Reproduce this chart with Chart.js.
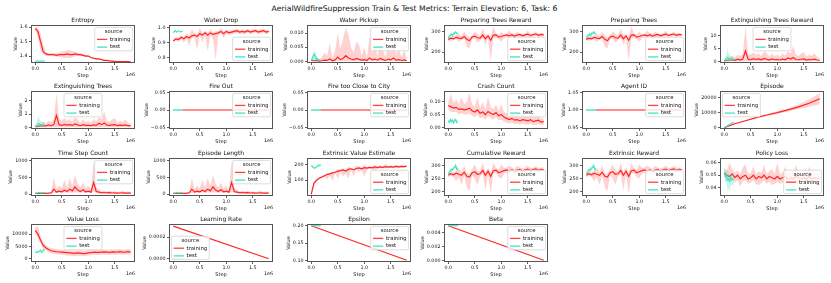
<!DOCTYPE html>
<html>
<head>
<meta charset="utf-8">
<script src="https://cdn.jsdelivr.net/npm/chart.js@4.4.0/dist/chart.umd.min.js"></script>
<style>
  body { margin: 0; background: #fff; width: 831px; height: 283px; overflow: hidden; position: relative; font-family: 'DejaVu Sans'; }
  #suptitle { position: absolute; left: 0; top: 4px; width: 829px; text-align: center; font-size: 7.7px; color: #111; white-space: nowrap; }
  .panel { position: absolute; }
</style>
</head>
<body>
<div id="suptitle">AerialWildfireSuppression Train &amp; Test Metrics: Terrain Elevation: 6, Task: 6</div>
<script>
// steps (x values)
const trainSteps = [0, 50000, 100000, 150000, 200000, 250000, 300000, 350000, 400000, 450000,
  500000, 550000, 600000, 650000, 700000, 750000, 800000, 850000, 900000, 950000,
  1000000, 1050000, 1100000, 1150000, 1200000, 1250000, 1300000, 1350000, 1400000, 1450000,
  1500000, 1550000, 1600000, 1650000, 1700000, 1750000, 1800000];
const testSteps = [0, 20000, 40000, 60000, 80000, 100000, 120000, 140000, 160000, 180000];
const lineSteps = [0, 1800000];
const testLineSteps = [0, 180000];
const episodeSteps = [0, 200000, 400000, 600000, 800000, 1000000, 1200000, 1400000, 1600000, 1800000];
const xTicks = [0, 500000, 1000000, 1500000];

const seriesNames = ['training', 'test'];
const legendTitle = 'source';

const zeroBand = [0, 0, 0, 0, 0, 0, 0, 0, 0, 0, 0, 0, 0, 0, 0, 0, 0, 0, 0, 0,
  0, 0, 0, 0, 0, 0, 0, 0, 0, 0, 0, 0, 0, 0, 0, 0, 0];
const zeroTestBand = [0, 0, 0, 0, 0, 0, 0, 0, 0, 0];

// Entropy
const entropyTrain = [1.59, 1.57, 1.50, 1.43, 1.415, 1.41, 1.41, 1.41, 1.405, 1.41,
  1.41, 1.41, 1.415, 1.41, 1.41, 1.415, 1.41, 1.41, 1.405, 1.40,
  1.40, 1.39, 1.385, 1.38, 1.38, 1.375, 1.37, 1.37, 1.367, 1.365,
  1.363, 1.362, 1.362, 1.361, 1.361, 1.361, 1.36];
const entropyHi = [1.60, 1.595, 1.56, 1.48, 1.43, 1.42, 1.42, 1.42, 1.42, 1.425,
  1.43, 1.435, 1.44, 1.44, 1.435, 1.43, 1.425, 1.42, 1.415, 1.41,
  1.405, 1.395, 1.39, 1.385, 1.382, 1.377, 1.372, 1.372, 1.369, 1.367,
  1.365, 1.364, 1.364, 1.363, 1.363, 1.363, 1.362];
const entropyLo = [1.58, 1.53, 1.44, 1.41, 1.40, 1.40, 1.40, 1.40, 1.395, 1.395,
  1.39, 1.385, 1.39, 1.385, 1.39, 1.40, 1.40, 1.40, 1.40, 1.395,
  1.395, 1.385, 1.38, 1.375, 1.378, 1.373, 1.368, 1.368, 1.365, 1.363,
  1.361, 1.360, 1.360, 1.359, 1.359, 1.359, 1.358];
const entropyTest = [1.365, 1.365, 1.365, 1.365, 1.365, 1.365, 1.365, 1.365, 1.365, 1.365];
const entropyTicks = [1.4, 1.5, 1.6];

// Water Drop
const waterDropTrain = [0.91, 0.925, 0.92, 0.935, 0.925, 0.94, 0.93, 0.945, 0.95, 0.94,
  0.96, 0.95, 0.965, 0.95, 0.965, 0.955, 0.96, 0.965, 0.975, 0.96,
  0.975, 0.965, 0.97, 0.975, 0.98, 0.97, 0.975, 0.97, 0.98, 0.97,
  0.975, 0.98, 0.97, 0.975, 0.98, 0.97, 0.975];
const waterDropHi = [0.92, 0.935, 0.935, 0.95, 0.935, 0.96, 0.945, 0.99, 0.965, 0.955,
  1.0, 0.965, 0.98, 0.965, 0.99, 0.97, 0.975, 0.98, 1.0, 0.975,
  0.99, 0.98, 0.985, 0.99, 0.995, 0.985, 0.99, 0.985, 0.995, 0.985,
  0.99, 0.995, 0.985, 0.99, 0.995, 0.985, 0.99];
const waterDropLo = [0.90, 0.91, 0.905, 0.92, 0.90, 0.925, 0.88, 0.93, 0.935, 0.85,
  0.945, 0.90, 0.95, 0.84, 0.95, 0.92, 0.78, 0.95, 0.96, 0.93,
  0.96, 0.95, 0.955, 0.96, 0.965, 0.955, 0.96, 0.955, 0.965, 0.955,
  0.96, 0.965, 0.955, 0.96, 0.965, 0.955, 0.96];
const waterDropTest = [0.965, 0.975, 0.98, 0.97, 0.975, 0.98, 0.975, 0.97, 0.975, 0.98];
const waterDropTicks = [0.8, 0.9, 1.0];

// Water Pickup
const waterPickupTrain = [0.0003, 0.0002, 0.0003, 0.0001, 0.0002, 0.0004, 0.0003, 0.0008, 0.0002, 0.0005,
  0.0015, 0.0006, 0.0010, 0.0020, 0.0012, 0.0008, 0.0005, 0.0010, 0.0007, 0.0004,
  0.0006, 0.0003, 0.0012, 0.0005, 0.0008, 0.0004, 0.0010, 0.0006, 0.0003, 0.0008,
  0.0005, 0.0012, 0.0004, 0.0006, 0.0003, 0.0005, 0.0002];
const waterPickupHi = [0.0010, 0.0008, 0.0012, 0.0005, 0.0015, 0.0030, 0.0020, 0.0065, 0.0010, 0.0040,
  0.0100, 0.0045, 0.0080, 0.0120, 0.0095, 0.0050, 0.0030, 0.0070, 0.0060, 0.0020,
  0.0050, 0.0015, 0.0090, 0.0030, 0.0060, 0.0020, 0.0075, 0.0040, 0.0015, 0.0060,
  0.0030, 0.0085, 0.0025, 0.0045, 0.0015, 0.0040, 0.0010];
const waterPickupTest = [0.0005, 0.001, 0.002, 0.0025, 0.0015, 0.001, 0.0008, 0.0006, 0.0004, 0.0003];
const waterPickupTestHi = [0.001, 0.002, 0.0035, 0.004, 0.003, 0.002, 0.0015, 0.001, 0.0008, 0.0005];
const waterPickupTicks = [0, 0.005, 0.010];

// Preparing Trees Reward / Preparing Trees
const prepTrain = [262, 268, 265, 272, 268, 266, 276, 262, 255, 274,
  278, 270, 268, 283, 265, 279, 258, 283, 284, 273,
  276, 281, 284, 279, 285, 277, 283, 286, 279, 284,
  287, 281, 285, 288, 282, 286, 284];
const prepHi = [272, 275, 280, 282, 290, 278, 300, 282, 270, 282,
  300, 288, 280, 315, 282, 290, 275, 325, 292, 284,
  300, 286, 290, 305, 292, 288, 300, 292, 288, 292,
  305, 290, 292, 300, 291, 292, 292];
const prepLo = [254, 257, 260, 262, 250, 260, 265, 225, 220, 262,
  265, 245, 258, 268, 235, 266, 155, 268, 272, 262,
  250, 268, 272, 268, 274, 268, 272, 276, 270, 274,
  276, 272, 276, 278, 274, 277, 276];
const prepTest = [270, 278, 282, 288, 280, 292, 290, 298, 292, 288];
const prepTestHi = [276, 284, 288, 294, 288, 298, 297, 305, 298, 294];
const prepTestLo = [264, 272, 276, 282, 272, 286, 283, 291, 286, 282];
const prepTicks = [200, 300];

// Extinguishing Trees Reward
const extRewardTrain = [0.2, 0.3, 0.5, 0.6, 0.4, 0.8, 0.5, 0.9, 4.0, 0.8,
  0.6, 1.0, 0.7, 0.9, 0.6, 1.1, 0.8, 0.5, 0.9, 0.6,
  0.7, 0.5, 0.8, 0.6, 1.3, 0.9, 1.5, 0.7, 0.6, 0.8,
  0.9, 0.5, 0.7, 0.6, 0.8, 0.5, 0.4];
const extRewardHi = [0.5, 0.8, 1.5, 2.0, 1.5, 2.5, 2.0, 3.0, 13.3, 3.0,
  2.5, 3.5, 2.5, 3.0, 2.0, 4.0, 3.0, 1.8, 3.0, 2.0,
  2.5, 1.8, 3.0, 2.2, 4.0, 3.0, 6.0, 2.5, 2.0, 3.0,
  3.5, 1.8, 2.5, 2.0, 3.0, 1.8, 1.2];
const extRewardTest = [0.3, 0.6, 1.0, 1.5, 1.2, 1.0, 0.8, 1.0, 0.9, 0.8];
const extRewardTestHi = [0.8, 1.5, 3.0, 5.0, 3.0, 2.5, 2.0, 2.2, 2.0, 1.8];
const extRewardTicks = [0, 5, 10];

// Extinguishing Trees
const extTreesTrain = [0.05, 0.07, 0.1, 0.12, 0.1, 0.18, 0.12, 0.2, 0.9, 0.2,
  0.15, 0.22, 0.16, 0.2, 0.14, 0.25, 0.18, 0.12, 0.2, 0.14,
  0.15, 0.12, 0.18, 0.14, 0.3, 0.2, 0.32, 0.16, 0.14, 0.18,
  0.2, 0.12, 0.16, 0.14, 0.18, 0.12, 0.1];
const extTreesHi = [0.1, 0.16, 0.3, 0.4, 0.3, 0.5, 0.4, 0.6, 2.6, 0.6,
  0.5, 0.7, 0.5, 0.6, 0.4, 0.8, 0.6, 0.35, 0.6, 0.4,
  0.5, 0.35, 0.6, 0.45, 0.8, 0.6, 1.2, 0.5, 0.4, 0.6,
  0.7, 0.35, 0.5, 0.4, 0.6, 0.35, 0.25];
const extTreesTest = [0.06, 0.12, 0.2, 0.3, 0.25, 0.2, 0.16, 0.2, 0.18, 0.16];
const extTreesTestHi = [0.15, 0.3, 0.6, 0.9, 0.6, 0.5, 0.4, 0.45, 0.4, 0.35];
const extTreesTicks = [0, 1, 2];

// Fire Out / Fire too Close to City / Agent ID
const fireOutTrain = [0, 0];
const fireOutTest = [0, 0];
const fireCityTrain = [0, 0];
const fireCityTest = [0, 0];
const zeroTicks = [-0.05, 0, 0.05];
const agentTrain = [1, 1];
const agentTest = [1, 1];
const agentTicks = [0.95, 1.0, 1.05];

// Crash Count
const crashTrain = [0.085, 0.08, 0.075, 0.078, 0.07, 0.072, 0.068, 0.07, 0.075, 0.065,
  0.06, 0.068, 0.055, 0.06, 0.05, 0.062, 0.055, 0.05, 0.058, 0.045,
  0.05, 0.04, 0.035, 0.03, 0.035, 0.028, 0.03, 0.025, 0.03, 0.028,
  0.025, 0.03, 0.022, 0.025, 0.028, 0.02, 0.022];
const crashHi = [0.10, 0.13, 0.095, 0.11, 0.09, 0.12, 0.09, 0.10, 0.135, 0.09,
  0.08, 0.12, 0.075, 0.10, 0.07, 0.12, 0.08, 0.07, 0.09, 0.065,
  0.09, 0.06, 0.055, 0.05, 0.06, 0.045, 0.055, 0.04, 0.05, 0.045,
  0.04, 0.05, 0.038, 0.04, 0.045, 0.035, 0.035];
const crashLo = [0.07, 0.06, 0.06, 0.06, 0.05, 0.055, 0.05, 0.05, 0.055, 0.045,
  0.04, 0.05, 0.035, 0.04, 0.03, 0.045, 0.035, 0.03, 0.04, 0.028,
  0.03, 0.022, 0.018, 0.015, 0.018, 0.012, 0.015, 0.01, 0.015, 0.012,
  0.01, 0.015, 0.008, 0.01, 0.012, 0.008, 0.008];
const crashTest = [0.025, 0.02, 0.03, 0.022, 0.028, 0.018, 0.025, 0.03, 0.02, 0.022];
const crashTestHi = [0.032, 0.028, 0.038, 0.03, 0.036, 0.026, 0.033, 0.038, 0.028, 0.03];
const crashTestLo = [0.018, 0.012, 0.022, 0.014, 0.02, 0.01, 0.017, 0.022, 0.012, 0.014];
const crashTicks = [0, 0.05, 0.10];

// Episode
const episodeTrain = [0, 2600, 4600, 6600, 8400, 10000, 11800, 13800, 16200, 19200];
const episodeHi = [0, 2800, 5000, 7100, 9100, 10900, 12900, 15300, 18700, 23000];
const episodeLo = [0, 2400, 4200, 6100, 7700, 9100, 10700, 12300, 13800, 15500];
const episodeTest = [0, 400, 800, 1200, 1700, 2100, 2500, 2900, 3300, 3700];
const episodeTicks = [0, 10000, 20000];

// Time Step Count / Episode Length
const stepCountTrain = [20, 20, 22, 25, 25, 30, 35, 150, 60, 90,
  70, 120, 80, 150, 100, 220, 120, 80, 130, 70,
  90, 60, 350, 80, 60, 40, 50, 40, 45, 35,
  40, 30, 35, 40, 30, 35, 30];
const stepCountHi = [25, 25, 28, 30, 30, 40, 60, 500, 150, 250,
  180, 420, 200, 480, 250, 580, 300, 200, 350, 180,
  250, 150, 1000, 200, 150, 90, 110, 80, 100, 70,
  90, 60, 80, 100, 60, 90, 60];
const stepCountLo = [15, 15, 18, 20, 20, 22, 25, 40, 30, 40,
  35, 50, 40, 50, 45, 60, 50, 40, 50, 35,
  40, 30, 80, 35, 30, 25, 28, 25, 25, 22,
  25, 20, 22, 25, 20, 22, 20];
const stepCountTest = [30, 35, 40, 45, 50, 40, 35, 45, 50, 40];
const stepCountTestHi = [40, 48, 55, 60, 65, 55, 48, 60, 65, 55];
const stepCountTestLo = [20, 25, 28, 32, 36, 28, 24, 32, 36, 28];
const stepCountTicks = [0, 500, 1000];

// Extrinsic Value Estimate
const valueEstTrain = [10, 80, 100, 112, 120, 128, 136, 140, 146, 150,
  156, 160, 165, 158, 168, 172, 166, 174, 178, 172,
  179, 176, 181, 178, 184, 179, 184, 181, 185, 182,
  186, 183, 187, 184, 187, 185, 188];
const valueEstHi = [15, 88, 106, 118, 126, 134, 148, 146, 152, 156,
  170, 166, 175, 164, 185, 178, 172, 195, 184, 180,
  200, 182, 188, 185, 200, 186, 192, 188, 205, 188,
  195, 190, 198, 190, 194, 192, 194];
const valueEstLo = [5, 70, 94, 106, 114, 120, 105, 130, 95, 144,
  110, 150, 125, 140, 110, 165, 125, 166, 150, 164,
  120, 168, 174, 170, 160, 172, 176, 174, 178, 175,
  178, 176, 180, 176, 180, 178, 181];
const valueEstTest = [192, 186, 180, 176, 178, 184, 190, 195, 192, 196];
const valueEstTestHi = [200, 194, 188, 184, 186, 192, 198, 203, 200, 204];
const valueEstTestLo = [184, 178, 172, 168, 170, 176, 182, 187, 184, 188];
const valueEstTicks = [100, 200];

// Cumulative Reward / Extrinsic Reward
const rewardTrain = [262, 268, 264, 270, 266, 262, 274, 258, 255, 272,
  276, 266, 268, 281, 262, 278, 258, 280, 282, 272,
  276, 280, 283, 278, 284, 276, 282, 285, 278, 283,
  286, 280, 284, 287, 281, 285, 283];
const rewardHi = [270, 276, 275, 280, 290, 275, 300, 270, 268, 285,
  305, 280, 278, 310, 275, 292, 272, 310, 292, 284,
  305, 290, 292, 300, 292, 286, 300, 292, 288, 292,
  300, 290, 292, 298, 291, 292, 292];
const rewardLo = [254, 260, 255, 240, 255, 225, 262, 215, 200, 262,
  250, 225, 258, 265, 205, 265, 190, 268, 272, 255,
  250, 268, 272, 266, 274, 262, 272, 276, 268, 274,
  276, 270, 276, 278, 272, 277, 275];
const rewardTest = [265, 275, 280, 285, 282, 290, 292, 300, 285, 288];
const rewardTestHi = [273, 283, 288, 293, 290, 298, 300, 307, 293, 296];
const rewardTestLo = [257, 267, 272, 277, 274, 282, 284, 292, 277, 280];
const rewardTicks = [200, 250, 300];

// Policy Loss
const policyTrain = [0.052, 0.050, 0.049, 0.051, 0.048, 0.050, 0.047, 0.049, 0.050, 0.047,
  0.048, 0.050, 0.047, 0.049, 0.048, 0.050, 0.047, 0.049, 0.048, 0.047,
  0.049, 0.047, 0.048, 0.049, 0.047, 0.048, 0.047, 0.049, 0.048, 0.047,
  0.048, 0.047, 0.049, 0.047, 0.048, 0.047, 0.048];
const policyHi = [0.056, 0.054, 0.060, 0.055, 0.052, 0.054, 0.051, 0.056, 0.059, 0.051,
  0.052, 0.057, 0.051, 0.053, 0.052, 0.058, 0.051, 0.053, 0.055, 0.051,
  0.060, 0.051, 0.052, 0.057, 0.051, 0.052, 0.051, 0.058, 0.052, 0.051,
  0.052, 0.051, 0.057, 0.051, 0.052, 0.051, 0.052];
const policyLo = [0.048, 0.046, 0.045, 0.047, 0.044, 0.046, 0.041, 0.045, 0.046, 0.043,
  0.044, 0.046, 0.043, 0.042, 0.044, 0.046, 0.043, 0.045, 0.042, 0.043,
  0.045, 0.043, 0.044, 0.045, 0.043, 0.044, 0.043, 0.045, 0.044, 0.043,
  0.044, 0.043, 0.045, 0.043, 0.044, 0.043, 0.044];
const policyTest = [0.052, 0.049, 0.050, 0.046, 0.047, 0.045, 0.048, 0.046, 0.047, 0.046];
const policyTestHi = [0.056, 0.054, 0.055, 0.052, 0.052, 0.050, 0.052, 0.050, 0.051, 0.050];
const policyTestLo = [0.048, 0.044, 0.044, 0.038, 0.040, 0.036, 0.042, 0.041, 0.043, 0.042];
const policyTicks = [0.04, 0.05, 0.06];

// Value Loss
const valueLossTrain = [11500, 10000, 7500, 5500, 4500, 3800, 3300, 3100, 2900, 2800,
  2700, 2600, 2500, 2400, 2300, 2200, 2400, 2300, 2100, 2200,
  2400, 2500, 2700, 2600, 2600, 2700, 2800, 2700, 2600, 2800,
  2700, 2800, 2900, 2700, 2800, 2900, 2800];
const valueLossHi = [12500, 13500, 9000, 6800, 5500, 4800, 4300, 4100, 3900, 3800,
  3700, 3700, 3600, 3500, 3400, 3300, 3600, 3500, 3200, 3300,
  3600, 3700, 3900, 3800, 3700, 3800, 3900, 3800, 3700, 3900,
  3800, 3900, 4000, 3800, 3900, 4000, 3800];
const valueLossLo = [10500, 8500, 6200, 4300, 3500, 2800, 2300, 2100, 1900, 1800,
  1700, 1500, 1400, 1300, 1200, 1100, 1300, 1200, 1100, 1200,
  1400, 1500, 1700, 1600, 1600, 1700, 1800, 1700, 1600, 1800,
  1700, 1800, 1900, 1700, 1800, 1900, 1800];
const valueLossTest = [2800, 2600, 3000, 2700, 3200, 3500, 2600, 3000, 3800, 3500];
const valueLossTicks = [0, 5000, 10000];

// Learning Rate / Epsilon / Beta
const lrTrain = [0.0003, 0];
const lrTest = [0, 0];
const lrTicks = [0, 0.0002];
const epsTrain = [0.2, 0.1];
const epsTest = [0.2, 0.2];
const epsTicks = [0.10, 0.15, 0.20];
const betaTrain = [0.005, 0.00001];
const betaTest = [0.005, 0.005];
const betaTicks = [0, 0.002, 0.004];

// layout + style
const COL_LEFT = [31, 169, 307, 444, 582, 720];
const ROW_TOP = [25, 91, 158, 224];
const BOX_W = 104, BOX_H = 38;
const PAD_L = 32, PAD_T = 10, PAD_R = 4, PAD_B = 19;
const X_MIN = -80000, X_MAX = 1880000;
const FAMILY = 'DejaVu Sans';
const TICK_PX = 4.8, LABEL_PX = 5, LEGEND_PX = 5.3, TITLE_PX = 6;
const INK = '#111';
const SPINE = '#555';
const RED = '#ff2424', RED_BAND = 'rgba(255,30,30,0.2)';
const CYAN = '#45e3c0', CYAN_BAND = 'rgba(69,227,192,0.3)';
const FLAT_RED = '#ff8c8c', FLAT_CYAN = '#7fead2';
const legendColors = ['#ff4040', CYAN];

const panels = [
  { title: 'Entropy', train: entropyTrain, trainHi: entropyHi, trainLo: entropyLo, test: entropyTest,
    yMin: 1.352, yMax: 1.614, yTicks: entropyTicks, dec: 1, legend: 'ur' },
  { title: 'Water Drop', train: waterDropTrain, trainHi: waterDropHi, trainLo: waterDropLo, test: waterDropTest,
    yMin: 0.762, yMax: 1.018, yTicks: waterDropTicks, dec: 1, legend: 'lr' },
  { title: 'Water Pickup', train: waterPickupTrain, trainHi: waterPickupHi, trainLo: zeroBand,
    test: waterPickupTest, testHi: waterPickupTestHi, testLo: zeroTestBand,
    yMin: -0.0006, yMax: 0.0129, yTicks: waterPickupTicks, dec: 3, legend: 'ur' },
  { title: 'Preparing Trees Reward', train: prepTrain, trainHi: prepHi, trainLo: prepLo,
    test: prepTest, testHi: prepTestHi, testLo: prepTestLo,
    yMin: 147, yMax: 332, yTicks: prepTicks, dec: 0, legend: 'lr' },
  { title: 'Preparing Trees', train: prepTrain, trainHi: prepHi, trainLo: prepLo,
    test: prepTest, testHi: prepTestHi, testLo: prepTestLo,
    yMin: 147, yMax: 332, yTicks: prepTicks, dec: 0, legend: 'lr' },
  { title: 'Extinguishing Trees Reward', train: extRewardTrain, trainHi: extRewardHi, trainLo: zeroBand,
    test: extRewardTest, testHi: extRewardTestHi, testLo: zeroTestBand,
    yMin: -0.65, yMax: 13.95, yTicks: extRewardTicks, dec: 0, legend: 'uc' },
  { title: 'Extinguishing Trees', train: extTreesTrain, trainHi: extTreesHi, trainLo: zeroBand,
    test: extTreesTest, testHi: extTreesTestHi, testLo: zeroTestBand,
    yMin: -0.13, yMax: 2.75, yTicks: extTreesTicks, dec: 0, legend: 'uc' },
  { title: 'Fire Out', train: fireOutTrain, trainX: lineSteps, test: fireOutTest, testX: testLineSteps, flat: true,
    yMin: -0.055, yMax: 0.055, yTicks: zeroTicks, dec: 2, legend: 'ur' },
  { title: 'Fire too Close to City', train: fireCityTrain, trainX: lineSteps, test: fireCityTest, testX: testLineSteps, flat: true,
    yMin: -0.055, yMax: 0.055, yTicks: zeroTicks, dec: 2, legend: 'ur' },
  { title: 'Crash Count', train: crashTrain, trainHi: crashHi, trainLo: crashLo,
    test: crashTest, testHi: crashTestHi, testLo: crashTestLo,
    yMin: -0.0066, yMax: 0.142, yTicks: crashTicks, dec: 2, legend: 'ur' },
  { title: 'Agent ID', train: agentTrain, trainX: lineSteps, test: agentTest, testX: testLineSteps, flat: true,
    yMin: 0.945, yMax: 1.055, yTicks: agentTicks, dec: 2, legend: 'ur' },
  { title: 'Episode', train: episodeTrain, trainX: episodeSteps, trainHi: episodeHi, trainLo: episodeLo, test: episodeTest,
    yMin: -900, yMax: 24300, yTicks: episodeTicks, dec: 0, legend: 'ul' },
  { title: 'Time Step Count', train: stepCountTrain, trainHi: stepCountHi, trainLo: stepCountLo,
    test: stepCountTest, testHi: stepCountTestHi, testLo: stepCountTestLo,
    yMin: -55, yMax: 1080, yTicks: stepCountTicks, dec: 0, legend: 'ur' },
  { title: 'Episode Length', train: stepCountTrain, trainHi: stepCountHi, trainLo: stepCountLo,
    test: stepCountTest, testHi: stepCountTestHi, testLo: stepCountTestLo,
    yMin: -55, yMax: 1080, yTicks: stepCountTicks, dec: 0, legend: 'ur' },
  { title: 'Extrinsic Value Estimate', train: valueEstTrain, trainHi: valueEstHi, trainLo: valueEstLo,
    test: valueEstTest, testHi: valueEstTestHi, testLo: valueEstTestLo,
    yMin: 0, yMax: 240, yTicks: valueEstTicks, dec: 0, legend: 'lr' },
  { title: 'Cumulative Reward', train: rewardTrain, trainHi: rewardHi, trainLo: rewardLo,
    test: rewardTest, testHi: rewardTestHi, testLo: rewardTestLo,
    yMin: 182, yMax: 329, yTicks: rewardTicks, dec: 0, legend: 'lr' },
  { title: 'Extrinsic Reward', train: rewardTrain, trainHi: rewardHi, trainLo: rewardLo,
    test: rewardTest, testHi: rewardTestHi, testLo: rewardTestLo,
    yMin: 182, yMax: 329, yTicks: rewardTicks, dec: 0, legend: 'lr' },
  { title: 'Policy Loss', train: policyTrain, trainHi: policyHi, trainLo: policyLo,
    test: policyTest, testHi: policyTestHi, testLo: policyTestLo,
    yMin: 0.0333, yMax: 0.0638, yTicks: policyTicks, dec: 2, legend: 'lr' },
  { title: 'Value Loss', train: valueLossTrain, trainHi: valueLossHi, trainLo: valueLossLo, test: valueLossTest,
    yMin: -1250, yMax: 14100, yTicks: valueLossTicks, dec: 0, legend: 'uc' },
  { title: 'Learning Rate', train: lrTrain, trainX: lineSteps, test: lrTest, testX: testLineSteps,
    yMin: -0.00003, yMax: 0.00032, yTicks: lrTicks, dec: 4, legend: 'll' },
  { title: 'Epsilon', train: epsTrain, trainX: lineSteps, test: epsTest, testX: testLineSteps,
    yMin: 0.095, yMax: 0.205, yTicks: epsTicks, dec: 2, legend: 'ur' },
  { title: 'Beta', train: betaTrain, trainX: lineSteps, test: betaTest, testX: testLineSteps,
    yMin: -0.00025, yMax: 0.00525, yTicks: betaTicks, dec: 3, legend: 'ur' }
];

const pts = (xs, ys) => ys.map((y, i) => ({ x: xs[i], y }));
const fmt = (v, dec) => v.toFixed(dec).replace('-', '\u2212');

function lineSet(xs, ys, color, order, width) {
  return { data: pts(xs, ys), borderColor: color, borderWidth: width, fill: false, order };
}
function bandSets(xs, hi, lo, color, order) {
  return [
    { data: pts(xs, hi), borderWidth: 0, borderColor: 'transparent', backgroundColor: color, fill: '+1', order },
    { data: pts(xs, lo), borderWidth: 0, borderColor: 'transparent', fill: false, order }
  ];
}

function drawLegend(ctx, a, pos) {
  ctx.font = `${LEGEND_PX}px ${FAMILY}`;
  const textW = Math.max(...seriesNames.map(n => ctx.measureText(n).width));
  const w = 2.3 + 10.3 + 2.6 + textW + 2.2, h = 23.4, m = 2.4;
  let x = a.right - m - w;
  if (pos[1] === 'l') x = a.left + m;
  if (pos[1] === 'c') x = (a.left + a.right) / 2 - w / 2;
  let y = a.top + m;
  if (pos[0] === 'l') y = a.bottom - m - h;
  ctx.beginPath();
  if (ctx.roundRect) ctx.roundRect(x, y, w, h, 1.5); else ctx.rect(x, y, w, h);
  ctx.fillStyle = 'rgba(255,255,255,0.8)';
  ctx.fill();
  ctx.strokeStyle = '#d4d4d4';
  ctx.lineWidth = 0.8;
  ctx.stroke();
  ctx.fillStyle = INK;
  ctx.textAlign = 'center';
  ctx.textBaseline = 'middle';
  ctx.fillText(legendTitle, x + w / 2, y + 4.2);
  ctx.textAlign = 'left';
  seriesNames.forEach((n, i) => {
    const cy = y + 12 + i * 7.7;
    ctx.strokeStyle = legendColors[i];
    ctx.lineWidth = 1.3;
    ctx.beginPath();
    ctx.moveTo(x + 2.3, cy);
    ctx.lineTo(x + 12.6, cy);
    ctx.stroke();
    ctx.fillText(n, x + 15.2, cy);
  });
}

function makeDecor(p) {
  return {
    id: 'decor',
    afterDraw(chart) {
      const { ctx, chartArea: a } = chart;
      const midX = (a.left + a.right) / 2, midY = (a.top + a.bottom) / 2;
      ctx.save();
      ctx.strokeStyle = SPINE;
      ctx.lineWidth = 1;
      ctx.strokeRect(a.left + 0.5, a.top + 0.5, a.right - a.left - 1, a.bottom - a.top - 1);

      ctx.fillStyle = INK;
      ctx.textAlign = 'center';
      ctx.textBaseline = 'middle';
      ctx.font = `${TITLE_PX}px ${FAMILY}`;
      ctx.fillText(p.title, midX, a.top - 4.4);
      ctx.font = `${LABEL_PX}px ${FAMILY}`;
      ctx.fillText('Step', midX, a.bottom + 13.2);
      ctx.font = `${TICK_PX}px ${FAMILY}`;
      ctx.textAlign = 'right';
      ctx.fillText('1e6', a.right, a.bottom + 11.8);

      const maxW = Math.max(...chart.scales.y.ticks.map(t => ctx.measureText(t.label).width));
      ctx.translate(a.left - 3.5 - maxW - 4.2, midY);
      ctx.rotate(-Math.PI / 2);
      ctx.textAlign = 'center';
      ctx.font = `${LABEL_PX}px ${FAMILY}`;
      ctx.fillText('Value', 0, 0);
      ctx.restore();

      ctx.save();
      drawLegend(ctx, a, p.legend);
      ctx.restore();
    }
  };
}

function buildPanel(p, idx) {
  const col = idx % 6, row = Math.floor(idx / 6);
  const wrap = document.createElement('div');
  wrap.className = 'panel';
  wrap.style.left = (COL_LEFT[col] - PAD_L) + 'px';
  wrap.style.top = (ROW_TOP[row] - PAD_T) + 'px';
  const cv = document.createElement('canvas');
  cv.width = PAD_L + BOX_W + PAD_R;
  cv.height = PAD_T + BOX_H + PAD_B;
  cv.style.width = cv.width + 'px';
  cv.style.height = cv.height + 'px';
  wrap.appendChild(cv);
  document.body.appendChild(wrap);

  const trainX = p.trainX || trainSteps;
  const testX = p.testX || testSteps;
  const datasets = [];
  datasets.push(lineSet(testX, p.test, p.flat ? FLAT_CYAN : CYAN, 0, p.flat ? 2 : 1.2));
  if (p.testHi) datasets.push(...bandSets(testX, p.testHi, p.testLo, CYAN_BAND, 1));
  datasets.push(lineSet(trainX, p.train, p.flat ? FLAT_RED : RED, 2, p.flat ? 2 : 1.2));
  if (p.trainHi) datasets.push(...bandSets(trainX, p.trainHi, p.trainLo, RED_BAND, 3));

  const tickGrid = { drawOnChartArea: false, drawTicks: true, tickLength: 2, color: '#333', lineWidth: 0.8 };
  new Chart(cv, {
    type: 'line',
    data: { datasets },
    options: {
      responsive: false,
      animation: false,
      devicePixelRatio: 1,
      events: [],
      layout: { padding: { top: PAD_T, right: PAD_R, left: 0, bottom: 0 } },
      elements: { point: { radius: 0 }, line: { tension: 0 } },
      plugins: { legend: { display: false }, tooltip: { enabled: false }, title: { display: false } },
      scales: {
        x: {
          type: 'linear', min: X_MIN, max: X_MAX,
          afterFit: s => { s.height = PAD_B; },
          afterBuildTicks: s => { s.ticks = xTicks.map(v => ({ value: v })); },
          ticks: { callback: v => (v / 1e6).toFixed(1), font: { size: TICK_PX, family: FAMILY }, color: INK, padding: 0.5, maxRotation: 0, autoSkip: false },
          grid: tickGrid, border: { display: false }
        },
        y: {
          type: 'linear', min: p.yMin, max: p.yMax,
          afterFit: s => { s.width = PAD_L; },
          afterBuildTicks: s => { s.ticks = p.yTicks.map(v => ({ value: v })); },
          ticks: { callback: v => fmt(v, p.dec), font: { size: TICK_PX, family: FAMILY }, color: INK, padding: 1.5, autoSkip: false },
          grid: tickGrid, border: { display: false }
        }
      }
    },
    plugins: [makeDecor(p)]
  });
}

panels.forEach(buildPanel);
</script>
</body>
</html>
